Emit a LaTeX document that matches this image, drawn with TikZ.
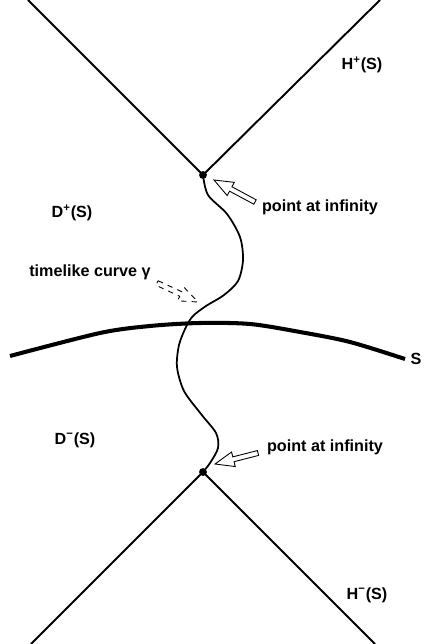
\documentclass[tikz,border=0pt]{standalone}
\usepackage{fontspec}
\setmainfont{Liberation Sans}
\usetikzlibrary{calc,positioning}

% hollow block arrow from a tail coordinate to a tip coordinate
\newcommand{\hollowarrow}[3][]{%
  \coordinate (#2-neck) at ($(#3)!0.38cm!(#2)$);
  \draw[pointer,#1] ($(#2)!0.05cm!90:(#3)$) -- ($(#2-neck)!0.05cm!90:(#3)$)
    -- ($(#2-neck)!0.15cm!90:(#3)$) -- (#3)
    -- ($(#2-neck)!0.15cm!-90:(#3)$) -- ($(#2-neck)!0.05cm!-90:(#3)$)
    -- ($(#2)!0.05cm!-90:(#3)$) -- cycle;}

\begin{document}
\begin{tikzpicture}[x=0.02cm, y=-0.02cm,
  cone/.style={line width=1.1pt},
  surface/.style={line width=2.3pt},
  worldline/.style={line width=1pt},
  dot/.style={circle, fill, inner sep=0pt, minimum size=4.5pt},
  lab/.style={font=\fontsize{9.2}{11}\selectfont\bfseries, inner sep=1pt},
  pointer/.style={line width=0.5pt, fill=white, line join=miter}]
  \useasboundingbox (0,0) rectangle (423,644);
  % points at infinity
  \node[dot] (pinf) at (203,175) {};
  \node[dot] (minf) at (203,472) {};
  % horizons
  \coordinate (ul) at (28,0);
  \coordinate (ur) at (380,0);
  \coordinate (ll) at (31,644);
  \coordinate (lr) at (375,644);
  \draw[cone] (ul) -- (pinf.center) -- (ur);
  \draw[cone] (ll) -- (minf.center) -- (lr);
  % surface S
  \coordinate (sL) at (10,356);
  \coordinate (sR) at (405,359);
  \draw[surface] plot[smooth] coordinates {(sL) (100,333) (150,326) (200,323)
    (250,324) (300,332) (350,342) (sR)};
  % timelike curve
  \draw[worldline] plot[smooth] coordinates {(pinf.center) (208,195) (227,214)
    (240,237) (243,260) (238,281) (224,295) (206,306) (193,316) (186,327)
    (179,345) (177,367) (184,391) (201,414) (216,433) (218,448) (210,463)
    (minf.center)};
  % labels
  \node[lab] (hplus) at (362,65) {H\textsuperscript{+}(S)};
  \node[lab] (dplus) at (72,213) {D\textsuperscript{+}(S)};
  \node[lab] (pinflab) at (320,207) {point at infinity};
  \node[lab] (gamlab) at (90,272) {timelike curve γ};
  \node[lab, right=2pt of sR] (slab) {S};
  \node[lab] (dminus) at (75,440) {D\textsuperscript{−}(S)};
  \node[lab] (minflab) at (325,447) {point at infinity};
  \node[lab] (hminus) at (367,595) {H\textsuperscript{−}(S)};
  % pointers
  \coordinate (ptail) at (255,202);
  \coordinate (ptip) at (214,180);
  \coordinate (gtail) at (157,283);
  \coordinate (gtip) at (198,302);
  \coordinate (mtail) at (258,453);
  \coordinate (mtip) at (215,464);
  \hollowarrow{ptail}{ptip}
  \hollowarrow[dashed]{gtail}{gtip}
  \hollowarrow{mtail}{mtip}
\end{tikzpicture}
\end{document}
